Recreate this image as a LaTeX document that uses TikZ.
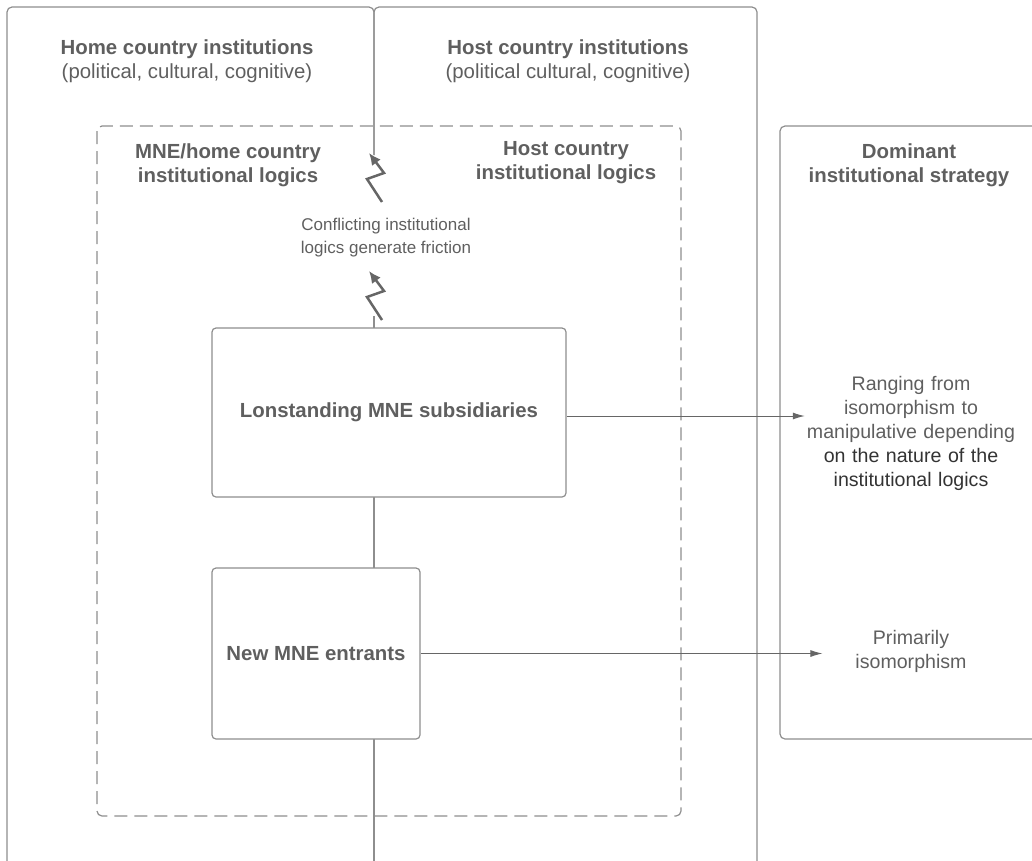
\documentclass[tikz,border=0pt]{standalone}
\usepackage{fontspec}
\setmainfont{Liberation Sans}
\usepackage{xcolor}
\usetikzlibrary{arrows.meta}
\definecolor{txtgray}{HTML}{5F5F5F}
\definecolor{darktxt}{HTML}{333333}
\definecolor{linegray}{HTML}{8E8E8E}
\definecolor{arrgray}{HTML}{666666}

\begin{document}
\begin{tikzpicture}[x=1pt,y=-1pt,
        panel/.style={draw=linegray, line width=1.2pt, rounded corners=5pt},
        unitbox/.style={draw=linegray, fill=white, line width=1.2pt, rounded corners=4pt,
            text=txtgray, font=\bfseries\fontsize{20.4}{24}\selectfont},
        title/.style={align=center, text=txtgray, font=\fontsize{20.4}{24}\selectfont},
        flow/.style={draw=arrgray, line width=1pt, -{Latex[length=12pt,width=7pt]}},
        bolt/.style={draw=arrgray, line width=2.5pt, line join=miter, -{Latex[length=12pt,width=11pt]}}]
                \useasboundingbox (0,0) rectangle (1032,860);
                \clip (0,0) rectangle (1032,860);
                % home / host panels, open at the bottom
                \draw[panel] (7,880) -- (7,7) -- (374,7) -- (374,155);
                \draw[panel] (374,155) -- (374,7) -- (757,7) -- (757,880);
                \draw[panel] (374,316) -- (374,880);
                \draw[panel, dash pattern=on 13pt off 7pt] (97,126) rectangle (681,816);
                \draw[panel] (1045,126) -- (780,126) -- (780,739) -- (1045,739);
                \node[title] (home) at (187,61) {\textbf{Home country institutions}\\(political, cultural, cognitive)};
                \node[title] (host) at (568,61) {\textbf{Host country institutions}\\(political cultural, cognitive)};
                \node[title, font=\bfseries\fontsize{20.4}{24}\selectfont] (homelog) at (228,165) {MNE/home country\\institutional logics};
                \node[title, font=\bfseries\fontsize{20.4}{24}\selectfont] (hostlog) at (566,163) {Host country\\institutional logics};
                \node[title, font=\bfseries\fontsize{20.4}{24}\selectfont] (strat) at (909,165) {Dominant\\institutional strategy};
                \node[title, font=\fontsize{17}{23}\selectfont] (fric) at (386,238) {Conflicting institutional\\logics generate friction};
                \draw[bolt] (382,202) -- (367,179) -- (384,173) -- (369,153);
                \draw[bolt] (382,320) -- (367,297) -- (384,291) -- (369,271);
                \node[unitbox, minimum width=354pt, minimum height=169pt] (lon) at (389,412.5) {Lonstanding MNE subsidiaries};
                \node[unitbox, minimum width=208pt, minimum height=171pt] (new) at (316,653.5) {New MNE entrants};
                \node[title, text width=212pt, inner xsep=0pt, font=\fontsize{19.6}{24}\selectfont] (rng) at (911,433)
                {Ranging from\\isomorphism to\\manipulative depending\\\textcolor{darktxt}{on the nature of the}\\\textcolor{darktxt}{institutional logics}};
                \node[title, text width=170pt, font=\fontsize{19.6}{24}\selectfont] (prim) at (911,651) {Primarily\\isomorphism};
                %\draw[flow] (lon.east) -- (rng.west);
                \draw[flow] ([yshift=-3.5pt]lon.east) -- ([yshift=-3.5pt]lon.east -| rng.west);
                \draw[flow] (new.east) -- (new.east -| prim.west);
            \end{tikzpicture}
\end{document}
